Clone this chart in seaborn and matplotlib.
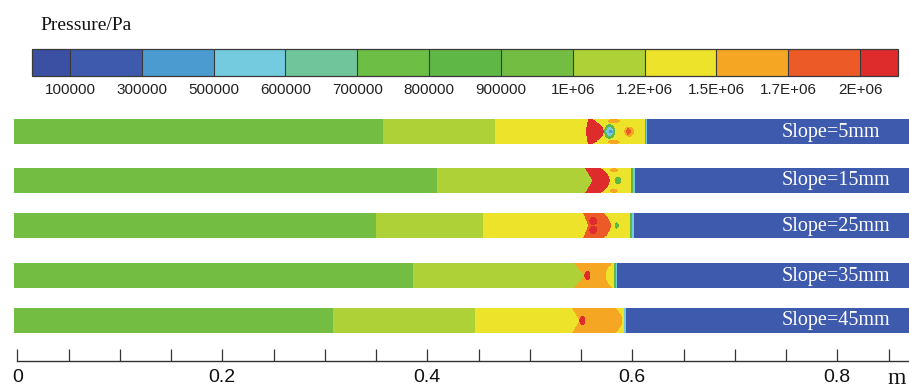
import numpy as np
import matplotlib
matplotlib.use("Agg")
import matplotlib.pyplot as plt
from matplotlib.colors import ListedColormap, BoundaryNorm
from matplotlib.ticker import MultipleLocator, FixedLocator
import seaborn as sns

# ---- colour legend -------------------------------------------------------
pressure_bounds = [100000, 300000, 500000, 600000, 700000, 800000, 900000,
                   1000000, 1200000, 1500000, 1700000, 2000000]
bound_labels = ["100000", "300000", "500000", "600000", "700000", "800000",
                "900000", "1E+06", "1.2E+06", "1.5E+06", "1.7E+06", "2E+06"]
band_colors = ["#3d5aad", "#4b9bd0", "#74cadf", "#70c59a", "#6cbe45",
               "#5fb746", "#74bd43", "#aed137", "#ede32b", "#f5a623", "#ec5a28"]
below_color = "#3b4fa3"
above_color = "#de2b2b"

# ---- channels ------------------------------------------------------------
slope_labels = ["Slope=5mm", "Slope=15mm", "Slope=25mm", "Slope=35mm", "Slope=45mm"]

# pressure of each zone, left to right (Pa)
zone_p_5 = [950000, 1100000, 1350000, 2100000, 1350000, 850000, 550000, 200000]
zone_p_15 = [950000, 1100000, 2100000, 1350000, 850000, 550000, 200000]
zone_p_25 = [950000, 1100000, 1350000, 1850000, 1350000, 850000, 550000, 200000]
zone_p_35 = [950000, 1100000, 1600000, 1350000, 850000, 550000, 200000]
zone_p_45 = [950000, 1100000, 1350000, 1600000, 1350000, 550000, 200000]

# zone boundaries (m): position at the wall and on the centre line
wall_x_5 = [0.357, 0.466, 0.557, 0.561, 0.612, 0.613, 0.614]
axis_x_5 = [0.357, 0.466, 0.555, 0.572, 0.612, 0.613, 0.614]
shape_5 = "aaaaaaa"
wall_x_15 = [0.4095, 0.554, 0.569, 0.599, 0.601, 0.603]
axis_x_15 = [0.4095, 0.561, 0.578, 0.599, 0.601, 0.603]
shape_15 = "avaaaa"
wall_x_25 = [0.350, 0.454, 0.552, 0.572, 0.598, 0.600, 0.602]
axis_x_25 = [0.350, 0.454, 0.557, 0.579, 0.598, 0.600, 0.602]
shape_25 = "aavaaaa"
wall_x_35 = [0.386, 0.543, 0.581, 0.582, 0.584, 0.585]
axis_x_35 = [0.386, 0.553, 0.574, 0.582, 0.584, 0.585]
shape_35 = "avaaaa"
wall_x_45 = [0.308, 0.447, 0.541, 0.584, 0.592, 0.594]
axis_x_45 = [0.308, 0.447, 0.549, 0.590, 0.592, 0.594]
shape_45 = "aavaaa"

# local pockets behind the front: (x m, height fraction, half-width m, half-height, Pa)
pockets_5 = [(0.582, 0.08, 0.006, 0.09, 1600000), (0.582, 0.92, 0.006, 0.09, 1600000),
             (0.578, 0.5, 0.0055, 0.30, 850000), (0.578, 0.5, 0.0035, 0.18, 550000),
             (0.579, 0.5, 0.0018, 0.08, 400000), (0.597, 0.5, 0.005, 0.20, 1600000),
             (0.596, 0.5, 0.0025, 0.12, 1850000)]
pockets_15 = [(0.582, 0.08, 0.004, 0.08, 1600000), (0.582, 0.92, 0.004, 0.08, 1600000),
              (0.586, 0.5, 0.003, 0.15, 850000)]
pockets_25 = [(0.562, 0.32, 0.004, 0.16, 2100000), (0.562, 0.68, 0.004, 0.16, 2100000),
              (0.585, 0.5, 0.002, 0.12, 850000)]
pockets_35 = [(0.556, 0.5, 0.003, 0.18, 2100000)]
pockets_45 = [(0.551, 0.5, 0.003, 0.18, 2100000)]

zone_pressures = [zone_p_5, zone_p_15, zone_p_25, zone_p_35, zone_p_45]
wall_xs = [wall_x_5, wall_x_15, wall_x_25, wall_x_35, wall_x_45]
axis_xs = [axis_x_5, axis_x_15, axis_x_25, axis_x_35, axis_x_45]
shapes = [shape_5, shape_15, shape_25, shape_35, shape_45]
pockets = [pockets_5, pockets_15, pockets_25, pockets_35, pockets_45]

scale_major = [0.0, 0.2, 0.4, 0.6, 0.8]
scale_labels = ["0", "0.2", "0.4", "0.6", "0.8"]

# ---- layout --------------------------------------------------------------
W, H = 909, 390
X0_PX, PX_PER_M = 17.3, 1025.0
X_START, X_END, DX = -0.003, 0.870, 0.0005
NY = 40
strip_top_px = [119, 168, 213, 263, 308]
STRIP_H_PX = 25

SANS = ["Liberation Sans", "DejaVu Sans"]
SERIF = ["Liberation Serif", "DejaVu Serif"]

sns.set_theme(style="white")
plt.rcParams["font.family"] = SANS


def px(m):
    return X0_PX + PX_PER_M * m


def build_field(press, wall, axis, shape, spots):
    x = np.arange(X_START + DX / 2, X_END, DX)
    yf = (np.arange(NY) + 0.5) / NY
    t = 2 * yf - 1
    press = np.asarray(press, dtype=float)
    field = np.empty((NY, x.size))
    for j in range(NY):
        edges = []
        for w, a, s in zip(wall, axis, shape):
            k = 1 - abs(t[j]) if s == "v" else 1 - t[j] ** 2
            edges.append(w + (a - w) * k)
        field[j] = press[np.searchsorted(np.array(edges), x)]
    XX, YY = np.meshgrid(x, yf)
    for xc, yc, rx, ry, p in spots:
        inside = ((XX - xc) / rx) ** 2 + ((YY - yc) / ry) ** 2 <= 1
        field[inside] = p
    return field


cmap = ListedColormap(band_colors)
cmap.set_under(below_color)
cmap.set_over(above_color)
norm = BoundaryNorm(pressure_bounds, cmap.N)

fig = plt.figure(figsize=(W / 100, H / 100), dpi=100)
fig.patch.set_facecolor("white")

cax = fig.add_axes([32 / W, 1 - 76 / H, (898 - 32) / W, 27 / H])

for i in range(len(slope_labels)):
    top = strip_top_px[i]
    left = px(X_START)
    ax = fig.add_axes([left / W, 1 - (top + STRIP_H_PX) / H,
                       (px(X_END) - left) / W, STRIP_H_PX / H])
    field = build_field(zone_pressures[i], wall_xs[i], axis_xs[i], shapes[i], pockets[i])
    sns.heatmap(field, ax=ax, cmap=cmap, norm=norm,
                cbar=(i == 0), cbar_ax=cax if i == 0 else None,
                cbar_kws=dict(orientation="horizontal", extend="both",
                              extendrect=True, extendfrac=0.048,
                              drawedges=True, ticks=pressure_bounds,
                              spacing="uniform"),
                xticklabels=False, yticklabels=False)
    ax.set_xticks([])
    ax.set_yticks([])
    fig.text(px(0.746) / W, 1 - (top + STRIP_H_PX / 2 + 0.5) / H, slope_labels[i],
             color="white", fontsize=14.5, family=SERIF, ha="left", va="center")
    if i == 0:
        cb = ax.collections[0].colorbar
        cb.set_ticks(pressure_bounds, labels=bound_labels)
        cb.outline.set_linewidth(0.9)
        cb.outline.set_edgecolor("#3a3a3a")
        cb.dividers.set_color("#3a3a3a")
        cb.dividers.set_linewidth(0.8)
        cax.tick_params(length=0, pad=5, labelsize=11, colors="#222222")
        for lab in cax.get_xticklabels():
            lab.set_family(SANS)

fig.text(40 / W, 1 - 25 / H, "Pressure/Pa", fontsize=14, family=SERIF,
         ha="left", va="center", color="#111111")

# distance scale under the channels
sax = fig.add_axes([px(0) / W, 1 - 360.7 / H, (W - px(0)) / W, 0.05])
sax.set_xlim(0, (W - px(0)) / PX_PER_M)
sax.set_ylim(0, 1)
sax.patch.set_alpha(0)
for side in ["top", "left", "right"]:
    sax.spines[side].set_visible(False)
sax.spines["bottom"].set_color("#333333")
sax.spines["bottom"].set_linewidth(1.0)
sax.set_yticks([])
sax.xaxis.set_major_locator(FixedLocator(scale_major))
sax.set_xticklabels(scale_labels)
sax.xaxis.set_minor_locator(MultipleLocator(0.05))
sax.tick_params(axis="x", which="both", direction="in", length=9, width=0.9,
                color="#333333", bottom=True)
sax.tick_params(axis="x", which="major", pad=6, labelsize=14, labelcolor="#111111")
for lab in sax.get_xticklabels():
    lab.set_family(SANS)

fig.text(888 / W, 1 - 378 / H, "m", fontsize=17, family=SERIF,
         ha="left", va="center", color="#111111")

fig.savefig("out.png", dpi=100, facecolor="white")
